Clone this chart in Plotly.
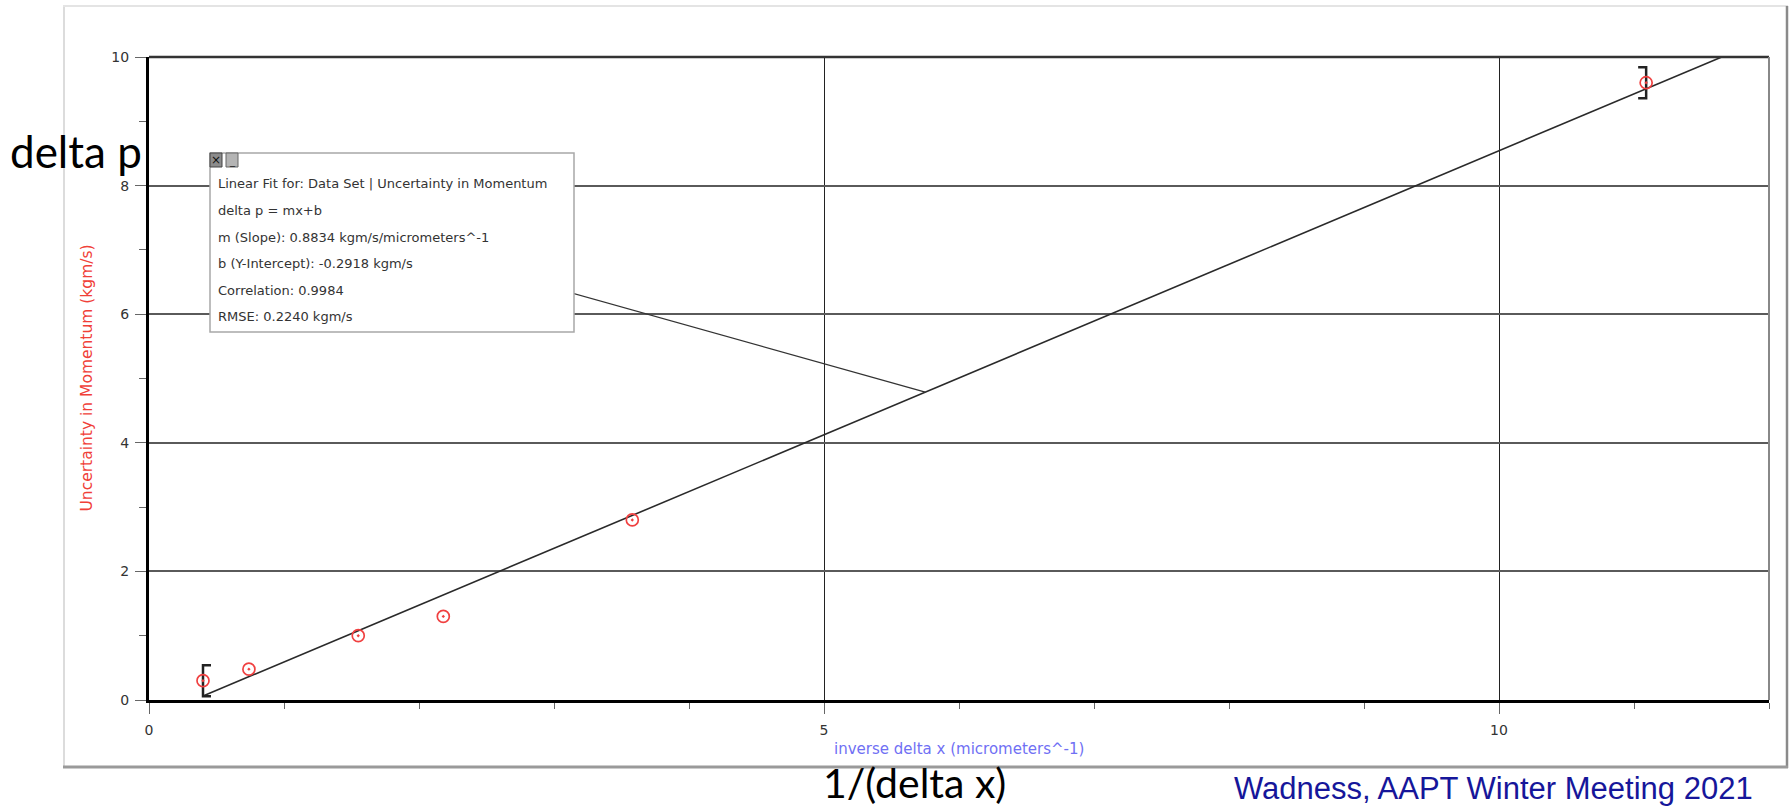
import plotly.graph_objects as go

# Measured data: inverse position uncertainty vs momentum uncertainty
inv_dx = [0.40, 0.74, 1.55, 2.18, 3.58, 11.09]
delta_p = [0.30, 0.48, 1.00, 1.30, 2.80, 9.60]

# Linear fit parameters (delta p = m x + b)
slope = 0.8834
intercept = -0.2918
correlation = 0.9984
rmse = 0.2240

x_ticks = [0, 5, 10]
y_ticks = [0, 2, 4, 6, 8, 10]
x_range = [0, 12]
y_range = [0, 10]

fit_lines = [
    "Linear Fit for: Data Set | Uncertainty in Momentum",
    "delta p = mx+b",
    f"m (Slope): {slope:.4f} kgm/s/micrometers^-1",
    f"b (Y-Intercept): {intercept:.4f} kgm/s",
    f"Correlation: {correlation:.4f}",
    f"RMSE: {rmse:.4f} kgm/s",
]

W, H = 1791, 808
L, R, T, B = 149, 22, 57, 108
PX0, PX1, PY0, PY1 = L, W - R, T, H - B


def xp(px):
    """pixel x -> paper x"""
    return (px - PX0) / (PX1 - PX0)


def yp(py):
    """pixel y -> paper y"""
    return (PY1 - py) / (PY1 - PY0)


def xd(px):
    """pixel x -> data x"""
    return x_range[0] + (px - PX0) / (PX1 - PX0) * (x_range[1] - x_range[0])


def yd(py):
    """pixel y -> data y"""
    return y_range[0] + (PY1 - py) / (PY1 - PY0) * (y_range[1] - y_range[0])


fig = go.Figure()

# fitted line, from the first fitted point to the right edge (clipped)
fx = [inv_dx[0], x_range[1]]
fy = [slope * v + intercept for v in fx]
fig.add_trace(go.Scatter(x=fx, y=fy, mode="lines",
                         line=dict(color="#2a2a2a", width=1.6),
                         hoverinfo="skip", showlegend=False))

# fit-range brackets at first and last points
half = 0.24
serif = xd(PX0 + 8) - xd(PX0)
x0b, y0b = inv_dx[0], delta_p[0]
x1b, y1b = inv_dx[-1], delta_p[-1]
fig.add_trace(go.Scatter(
    x=[x0b + serif, x0b, x0b, x0b + serif],
    y=[y0b + half, y0b + half, y0b - half, y0b - half],
    mode="lines", line=dict(color="#222", width=2.5),
    hoverinfo="skip", showlegend=False))
fig.add_trace(go.Scatter(
    x=[x1b - serif, x1b, x1b, x1b - serif],
    y=[y1b + half, y1b + half, y1b - half, y1b - half],
    mode="lines", line=dict(color="#222", width=2.5),
    hoverinfo="skip", showlegend=False))

# data points
fig.add_trace(go.Scatter(x=inv_dx, y=delta_p, mode="markers",
                         marker=dict(symbol="circle-open-dot", size=12,
                                     color="#f04040", line=dict(width=1.7)),
                         showlegend=False))

shapes = []
# outer frame of the graph window
shapes.append(dict(type="line", xref="paper", yref="paper",
                   x0=xp(64), x1=xp(64), y0=yp(6), y1=yp(768),
                   line=dict(color="#dcdcdc", width=2)))
shapes.append(dict(type="line", xref="paper", yref="paper",
                   x0=xp(63), x1=xp(1788), y0=yp(6), y1=yp(6),
                   line=dict(color="#e4e4e4", width=2)))
shapes.append(dict(type="line", xref="paper", yref="paper",
                   x0=xp(1787), x1=xp(1787), y0=yp(6), y1=yp(768),
                   line=dict(color="#8a8a8a", width=2.5)))
shapes.append(dict(type="line", xref="paper", yref="paper",
                   x0=xp(63), x1=xp(1788), y0=yp(767), y1=yp(767),
                   line=dict(color="#9a9a9a", width=3)))
# plot border: top and right
shapes.append(dict(type="line", xref="paper", yref="paper",
                   x0=0, x1=1, y0=1, y1=1, layer="above",
                   line=dict(color="#333", width=2.5)))
shapes.append(dict(type="line", xref="paper", yref="paper",
                   x0=1, x1=1, y0=0, y1=1, layer="above",
                   line=dict(color="#888", width=2)))

# fit info box with connector to the fitted line
bx0, bx1, by0, by1 = xd(210), xd(574), yd(332), yd(153)
cx = 5.75
shapes.append(dict(type="line", xref="x", yref="y", layer="above",
                   x0=(bx0 + bx1) / 2, y0=(by0 + by1) / 2,
                   x1=cx, y1=slope * cx + intercept,
                   line=dict(color="#333", width=1.3)))
shapes.append(dict(type="rect", xref="x", yref="y", layer="above",
                   x0=bx0, x1=bx1, y0=by0, y1=by1,
                   fillcolor="white", line=dict(color="#a8a8a8", width=1.5)))
# close / minimise buttons
shapes.append(dict(type="rect", xref="x", yref="y", layer="above",
                   x0=xd(210), x1=xd(222), y0=yd(167), y1=yd(153),
                   fillcolor="#8c8c8c", line=dict(color="#444", width=1)))
shapes.append(dict(type="rect", xref="x", yref="y", layer="above",
                   x0=xd(226), x1=xd(238), y0=yd(167), y1=yd(153),
                   fillcolor="#b4b4b4", line=dict(color="#666", width=1)))

annotations = []
annotations.append(dict(x=xd(216), y=yd(160), xref="x", yref="y",
                        text="×", showarrow=False, xanchor="center", yanchor="middle",
                        font=dict(family="DejaVu Sans", size=12, color="#111")))
annotations.append(dict(x=xd(232), y=yd(161), xref="x", yref="y",
                        text="_", showarrow=False, xanchor="center", yanchor="middle",
                        font=dict(family="DejaVu Sans", size=10, color="#222")))

line_y = [183, 210, 237, 263, 290, 316]
for txt, ly in zip(fit_lines, line_y):
    annotations.append(dict(x=xd(216), y=yd(ly), xref="x", yref="y",
                            text=txt, showarrow=False,
                            xanchor="left", yanchor="middle",
                            font=dict(family="DejaVu Sans", size=13, color="#333")))

# axis titles
annotations.append(dict(x=0.5, y=yp(749), xref="paper", yref="paper",
                        text="inverse delta x (micrometers^-1)", showarrow=False,
                        xanchor="center", yanchor="middle",
                        font=dict(family="DejaVu Sans", size=15, color="#7070f4")))
annotations.append(dict(x=xp(86), y=0.5, xref="paper", yref="paper",
                        text="Uncertainty in Momentum (kgm/s)", showarrow=False,
                        textangle=-90, xanchor="center", yanchor="middle",
                        font=dict(family="DejaVu Sans", size=15.5, color="#f04038")))

# slide labels
annotations.append(dict(x=xp(8), y=yp(151), xref="paper", yref="paper",
                        text="delta p", showarrow=False,
                        xanchor="left", yanchor="middle",
                        font=dict(family="Lato", size=44, color="black")))
annotations.append(dict(x=xp(822), y=yp(808), xref="paper", yref="paper",
                        text="1/(delta x)", showarrow=False, borderpad=0,
                        xanchor="left", yanchor="bottom",
                        font=dict(family="Lato", size=41, color="black")))
annotations.append(dict(x=xp(1232), y=yp(808), xref="paper", yref="paper",
                        text="Wadness, AAPT Winter Meeting 2021", showarrow=False,
                        xanchor="left", yanchor="bottom",
                        font=dict(family="Liberation Sans", size=31, color="#16169a")))

tickfont = dict(family="DejaVu Sans", size=14, color="#333")

fig.update_layout(
    width=W, height=H,
    margin=dict(l=L, r=R, t=T, b=B),
    paper_bgcolor="white", plot_bgcolor="white",
    showlegend=False,
    shapes=shapes, annotations=annotations,
    xaxis=dict(range=x_range, tickvals=x_ticks, ticks="outside", ticklen=11,
               tickwidth=1, tickcolor="#666", tickfont=tickfont,
               ticklabelstandoff=4,
               showline=True, linewidth=3, linecolor="black",
               showgrid=True, gridcolor="#222", gridwidth=1, zeroline=False,
               minor=dict(dtick=1, tick0=0, ticks="outside", ticklen=6,
                          tickwidth=1, tickcolor="#666", showgrid=False)),
    yaxis=dict(range=y_range, tickvals=y_ticks, ticks="outside", ticklen=11,
               tickwidth=1, tickcolor="#666", tickfont=tickfont,
               ticklabelstandoff=3,
               showline=True, linewidth=3, linecolor="black",
               showgrid=True, gridcolor="#5a5a5a", gridwidth=2, zeroline=False,
               minor=dict(dtick=1, tick0=0, ticks="outside", ticklen=7,
                          tickwidth=1, tickcolor="#666", showgrid=False)),
)

fig.write_html("out.html")
